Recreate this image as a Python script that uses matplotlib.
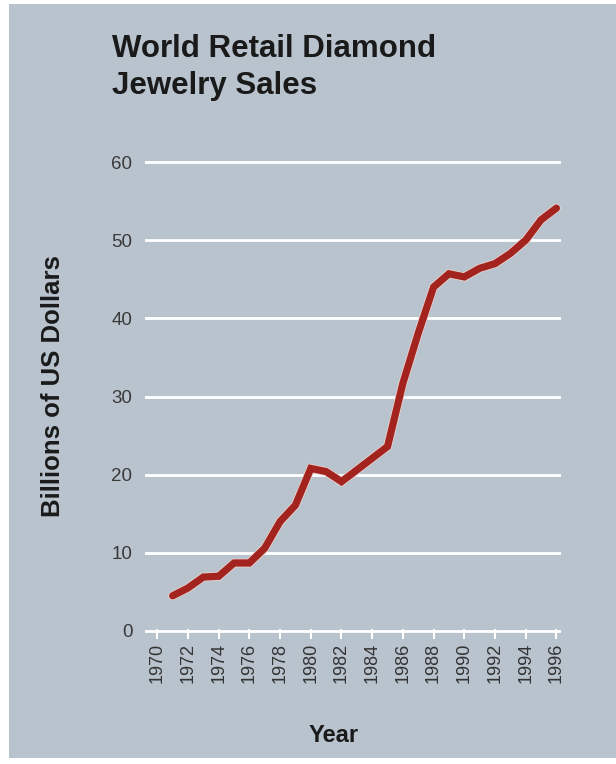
import matplotlib
matplotlib.use("Agg")
import matplotlib.pyplot as plt
import matplotlib.patheffects as pe
from matplotlib.patches import Rectangle

# World retail diamond jewelry sales, billions of US dollars
years = [1971, 1972, 1973, 1974, 1975, 1976, 1977, 1978, 1979, 1980,
         1981, 1982, 1983, 1984, 1985, 1986, 1987, 1988, 1989, 1990,
         1991, 1992, 1993, 1994, 1995, 1996]
sales = [4.5, 5.5, 6.9, 7.0, 8.7, 8.7, 10.6, 14.0, 16.1, 20.8,
         20.4, 19.1, 20.6, 22.1, 23.6, 31.7, 38.1, 44.0, 45.7, 45.3,
         46.4, 47.0, 48.3, 50.0, 52.6, 54.1]
xticks = list(range(1970, 1997, 2))
yticks = [0, 10, 20, 30, 40, 50, 60]

bg = "#b8c3cd"
plt.rcParams['font.family'] = ['Liberation Sans', 'DejaVu Sans']

fig = plt.figure(figsize=(6.16, 7.64), dpi=100, facecolor="white")
fig.patches.append(Rectangle((9 / 616, 6 / 764), 1 - 9 / 616, 1 - 10 / 764,
                             transform=fig.transFigure, facecolor=bg,
                             edgecolor="none", zorder=-5))

ax = fig.add_axes([145 / 616, 1 - 638.8 / 764, 416 / 616, 484.6 / 764])
ax.set_facecolor("none")
ax.set_xlim(1969.2, 1996.3)
ax.set_ylim(-1, 61)

for y in yticks:
    ax.axhline(y, color="white", linewidth=2, zorder=1)

ax.plot(years, sales, color="#a3231f", linewidth=5.2, solid_joinstyle="miter",
        solid_capstyle="round", zorder=3,
        path_effects=[pe.Stroke(linewidth=6.4, foreground="#e9d2cf"), pe.Normal()])

for s in ax.spines.values():
    s.set_visible(False)

ax.set_xticks(xticks)
ax.set_xticklabels([str(x) for x in xticks], rotation=90, fontsize=13, color="#333333")
ax.tick_params(axis="x", direction="in", length=7.5, width=1.5, color="white", pad=3)
ax.set_yticks(yticks)
ax.set_yticklabels([str(y) for y in yticks], fontsize=13.5, color="#3a3a3a")
ax.tick_params(axis="y", length=0, pad=9)

fig.text(112 / 616, 1 - 34 / 764, "World Retail Diamond\nJewelry Sales",
         fontsize=22.5, fontweight="bold", color="#1a1a1a", va="top", ha="left",
         linespacing=1.3)
fig.text(53 / 616, 1 - 386 / 764, "Billions of US Dollars", rotation=90,
         fontsize=18.5, fontweight="bold", color="#1a1a1a", va="center", ha="center")
fig.text(334 / 616, 1 - 736 / 764, "Year", fontsize=17, fontweight="bold",
         color="#1a1a1a", va="center", ha="center")

fig.savefig("out.png", dpi=100, facecolor="white")
